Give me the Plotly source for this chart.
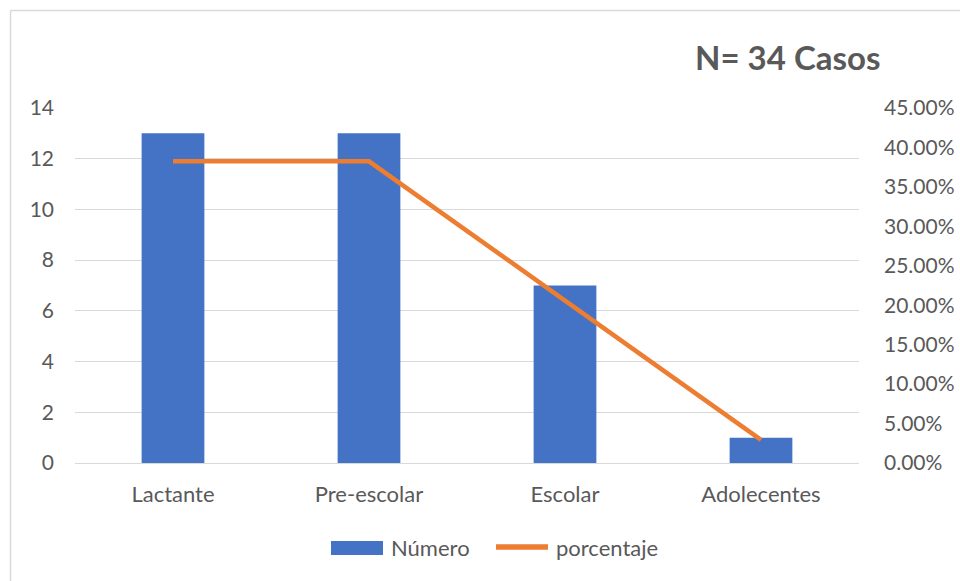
import plotly.graph_objects as go

categorias = ["Lactante", "Pre-escolar", "Escolar", "Adolecentes"]
numero = [13, 13, 7, 1]
porcentaje = [0.3824, 0.3824, 0.2059, 0.0294]
left_ticks = [0, 2, 4, 6, 8, 10, 12, 14]
right_ticks = [0, 0.05, 0.10, 0.15, 0.20, 0.25, 0.30, 0.35, 0.40, 0.45]

FONT = "Lato, Open Sans, sans-serif"
GRAY = "#595959"
BLUE = "#4472C4"
ORANGE = "#ED7D31"

fig = go.Figure()
fig.add_trace(go.Bar(x=categorias, y=numero, name="Número", marker=dict(color=BLUE, line=dict(width=0)),
                     width=0.32, yaxis="y", showlegend=False))
fig.add_trace(go.Scatter(x=categorias, y=porcentaje, name="porcentaje", mode="lines",
                         line=dict(color=ORANGE, width=4.5), yaxis="y2", showlegend=False))

L, R, T, B = 75, 101, 108, 118
W, H = 960, 581
pw, ph = W - L - R, H - T - B

def px(x):
    return (x - L) / pw

def py(y):
    return (H - B - y) / ph

fig.update_layout(
    width=W, height=H,
    margin=dict(l=L, r=R, t=T, b=B, autoexpand=False),
    paper_bgcolor="white", plot_bgcolor="white",
    font=dict(family=FONT, size=21, color=GRAY),
    xaxis=dict(showgrid=False, showline=True, linecolor="#D9D9D9", linewidth=1, ticks="",
               tickfont=dict(size=22, color=GRAY), ticklabelstandoff=12, automargin=False),
    yaxis=dict(range=[0, 14], tickvals=left_ticks, showgrid=True, gridcolor="#D9D9D9", gridwidth=1,
               zeroline=False, showline=False, tickfont=dict(size=21, color=GRAY), ticklabelstandoff=20,
               automargin=False),
    yaxis2=dict(range=[0, 0.45], tickvals=right_ticks, tickformat=".2%", overlaying="y", side="right",
                showgrid=False, zeroline=False, showline=False, tickfont=dict(size=21, color=GRAY),
                ticklabelstandoff=24, automargin=False),
    showlegend=False,
)

fig.add_annotation(text="<b>N= 34 Casos</b>", xref="paper", yref="paper", x=px(787), y=py(57),
                   xanchor="center", yanchor="middle", showarrow=False,
                   font=dict(family=FONT, size=33, color=GRAY))

# legend (drawn to match the wide swatches of the original)
fig.add_shape(type="rect", xref="paper", yref="paper", x0=px(331), x1=px(383), y0=py(541), y1=py(555),
              fillcolor=BLUE, line=dict(width=0))
fig.add_annotation(text="Número", xref="paper", yref="paper", x=px(389), y=py(547),
                   xanchor="left", yanchor="middle", showarrow=False, font=dict(family=FONT, size=22, color=GRAY))
fig.add_shape(type="line", xref="paper", yref="paper", x0=px(496), x1=px(548), y0=py(547), y1=py(547),
              line=dict(color=ORANGE, width=5.5))
fig.add_annotation(text="porcentaje", xref="paper", yref="paper", x=px(554), y=py(547),
                   xanchor="left", yanchor="middle", showarrow=False, font=dict(family=FONT, size=22, color=GRAY))

# chart area border (top and left edges visible)
fig.add_shape(type="line", xref="paper", yref="paper", x0=px(10.5), x1=px(962), y0=py(10.5), y1=py(10.5),
              line=dict(color="#D9D9D9", width=1.5))
fig.add_shape(type="line", xref="paper", yref="paper", x0=px(10.5), x1=px(10.5), y0=py(10.5), y1=py(585),
              line=dict(color="#D9D9D9", width=1.5))

fig.write_html("out.html")
